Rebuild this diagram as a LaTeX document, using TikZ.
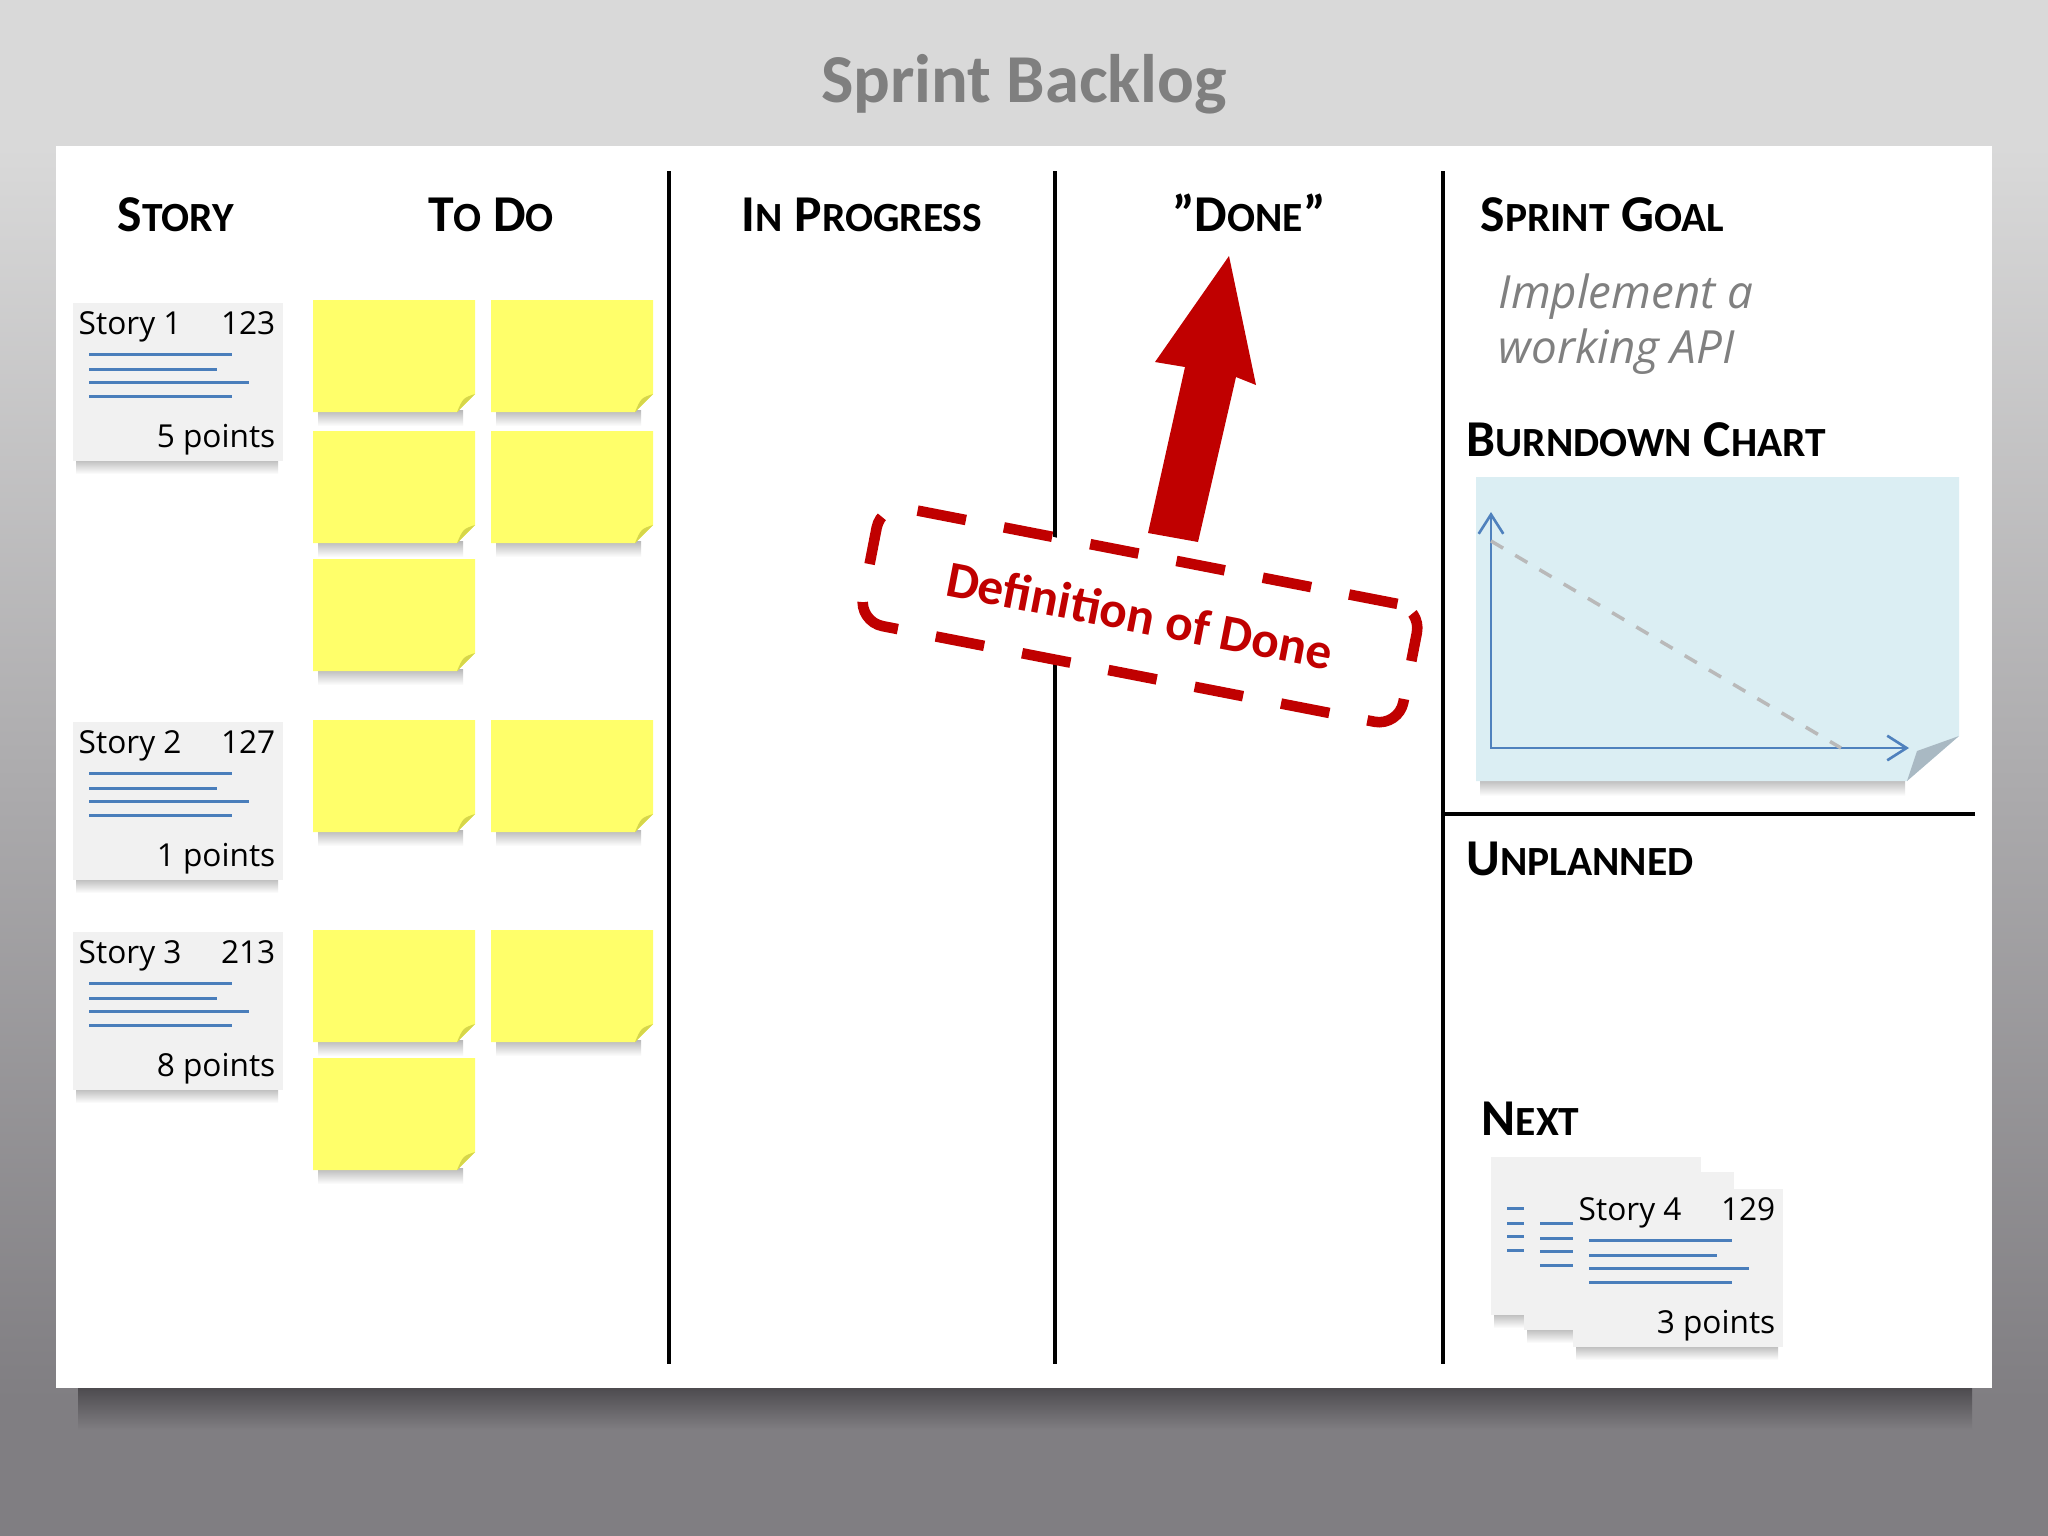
\documentclass[tikz,border=0pt]{standalone}
\usepackage{fontspec}
\setmainfont{Carlito}
\newfontfamily\handfont{Open Sans}
\usetikzlibrary{arrows.meta}
\definecolor{bgtop}{HTML}{D9D9D9}
\definecolor{bgbot}{HTML}{807E82}
\definecolor{boardshadow}{HTML}{4D4B4F}
\definecolor{titlegray}{HTML}{7F7F7F}
\definecolor{cardfill}{HTML}{F1F1F1}
\definecolor{lineblue}{HTML}{4A7EBB}
\definecolor{noteyellow}{HTML}{FFFF6A}
\definecolor{notefold}{HTML}{D6D64A}
\definecolor{chartblue}{HTML}{DBEEF3}
\definecolor{chartfold}{HTML}{A9B9C3}
\definecolor{axisblue}{HTML}{4F81BD}
\definecolor{dodred}{HTML}{C00000}
\definecolor{goalgray}{HTML}{808080}
\newcommand{\hdr}[2]{{\fontsize{14.7}{18}\selectfont #1}{\fontsize{11.8}{14}\selectfont #2}}
\newcommand{\cardbody}[3]{%
  \shade[top color=black!28, bottom color=white] (#2+4,#3+157) rectangle (#2+206,#3+172);
  \node[cardbox] (#1) at (#2,#3) {};
  \draw[blueline] ([shift={(17,52)}]#1.north west) -- ++(143,0);
  \draw[blueline] ([shift={(17,67)}]#1.north west) -- ++(128,0);
  \draw[blueline] ([shift={(17,80)}]#1.north west) -- ++(160,0);
  \draw[blueline] ([shift={(17,94)}]#1.north west) -- ++(143,0);
}
\newcommand{\storycard}[6]{%
  \cardbody{#1}{#2}{#3}
  \node[cardtext, anchor=base west] (#1-title) at ([shift={(6,32)}]#1.north west) {#4};
  \node[cardtext, anchor=base east] (#1-num) at ([shift={(204,32)}]#1.north west) {#5};
  \node[cardtext, anchor=base east] (#1-pts) at ([shift={(204,145)}]#1.north west) {#6};
}
\newcommand{\sticky}[3]{%
  \shade[top color=black!28, bottom color=white] (#2+5,#3+110) rectangle (#2+150,#3+126);
  \fill[noteyellow] (#2,#3) -- (#2+162,#3) -- (#2+162,#3+94) -- (#2+144,#3+112) -- (#2,#3+112) -- cycle;
  \fill[notefold] (#2+162,#3+94) .. controls (#2+150,#3+98) .. (#2+144,#3+112) -- cycle;
  \coordinate (#1) at (#2+81,#3+56);
}
\begin{document}
\begin{tikzpicture}[x=0.01cm, y=-0.01cm,
  cardbox/.style={fill=cardfill, minimum width=2.1cm, minimum height=1.58cm, inner sep=0pt, anchor=north west},
  cardtext/.style={font=\handfont\fontsize{9}{10}\selectfont, inner sep=0pt, text=black},
  blueline/.style={draw=lineblue, line width=0.85pt},
  colline/.style={draw=black, line width=1.2pt},
  hdrtext/.style={font=\bfseries\fontsize{14.7}{18}\selectfont, inner sep=0pt, text=black},
  goaltext/.style={font=\handfont\itshape\fontsize{13}{15}\selectfont, inner sep=0pt, text=goalgray},
  axis/.style={draw=axisblue, line width=0.75pt}
]
\useasboundingbox (0,0) rectangle (2048,1536);
% background
\fill[bgtop] (0,0) rectangle (2048,146);
\shade[top color=bgtop, bottom color=bgbot] (0,146) rectangle (2048,1400);
\fill[bgbot] (0,1399) rectangle (2048,1536);
\shade[top color=boardshadow, bottom color=bgbot] (78,1388) rectangle (1972,1430);
% title
\node[font=\bfseries\fontsize{19.5}{22}\selectfont, text=titlegray, anchor=base, inner sep=0pt] (title) at (1024,102) {Sprint Backlog};
% board
\fill[white] (56,146) rectangle (1992,1388);
\draw[colline] (669,171) -- (669,1364);
\draw[colline] (1055,171) -- (1055,1364);
\draw[colline] (1443,171) -- (1443,1364);
\draw[colline] (1443,814) -- (1975,814);
% headers
\node[hdrtext, anchor=base] (hstory) at (176,231) {\hdr{S}{TORY}};
\node[hdrtext, anchor=base] (htodo) at (491,231) {\hdr{T}{O} \hdr{D}{O}};
\node[hdrtext, anchor=base] (hprog) at (862,231) {\hdr{I}{N} \hdr{P}{ROGRESS}};
\node[hdrtext, anchor=base] (hdone) at (1249,231) {”\hdr{D}{ONE}”};
\node[hdrtext, anchor=base west] (hgoal) at (1480,231) {\hdr{S}{PRINT} \hdr{G}{OAL}};
\node[hdrtext, anchor=base west] (hburn) at (1466,456) {\hdr{B}{URNDOWN} \hdr{C}{HART}};
\node[hdrtext, anchor=base west] (hunpl) at (1466,875) {\hdr{U}{NPLANNED}};
\node[hdrtext, anchor=base west] (hnext) at (1481,1135) {\hdr{N}{EXT}};
% sprint goal
\node[goaltext, anchor=base west] (goal1) at (1498,308) {Implement a};
\node[goaltext, anchor=base west] (goal2) at (1498,363) {working API};
% story cards
\storycard{s1}{72}{302}{Story 1}{123}{5 points}
\storycard{s2}{72}{721}{Story 2}{127}{1 points}
\storycard{s3}{72}{931}{Story 3}{213}{8 points}
\cardbody{s4b}{1490}{1156}
\cardbody{s4a}{1523}{1171}
\storycard{s4}{1572}{1188}{Story 4}{129}{3 points}
% sticky notes
\sticky{n11}{313}{300} \sticky{n12}{491}{300}
\sticky{n21}{313}{431} \sticky{n22}{491}{431}
\sticky{n31}{313}{559}
\sticky{n41}{313}{720} \sticky{n42}{491}{720}
\sticky{n51}{313}{930} \sticky{n52}{491}{930}
\sticky{n61}{313}{1058}
% burndown chart
\shade[top color=black!28, bottom color=white] (1480,779) rectangle (1905,796);
\fill[chartblue] (1476,477) -- (1959,477) -- (1959,736) -- (1907,781) -- (1476,781) -- cycle;
\fill[chartfold] (1959,736) -- (1917,751) -- (1907,781) -- cycle;
\coordinate (origin) at (1491,748);
\coordinate (ytop) at (1491,512);
\coordinate (xend) at (1909,748);
\draw[axis, {Straight Barb[length=5.5pt,width=7pt]}-{Straight Barb[length=5.5pt,width=7pt]}] (ytop) -- (origin) -- (xend);
\coordinate (ideal0) at (1491,541);
\coordinate (ideal1) at (1841,748);
\draw[draw=gray!55, line width=1pt, dash pattern=on 4pt off 4pt] (ideal0) -- (ideal1);
% definition of done
\node[draw=dodred, fill=white, line width=3pt, dash pattern=on 14pt off 11pt, rounded corners=7pt,
      minimum width=5.5cm, minimum height=1.2cm, rotate=-11, inner sep=0pt,
      font=\bfseries\fontsize{14.6}{17}\selectfont, text=dodred] (dod) at (1140,615) {Definition of Done};
\fill[dodred] (1229,256) -- (1256,385) -- (1236,377) -- (1198,542) -- (1148,533) -- (1185,367) -- (1155,362) -- cycle;
\end{tikzpicture}
\end{document}
